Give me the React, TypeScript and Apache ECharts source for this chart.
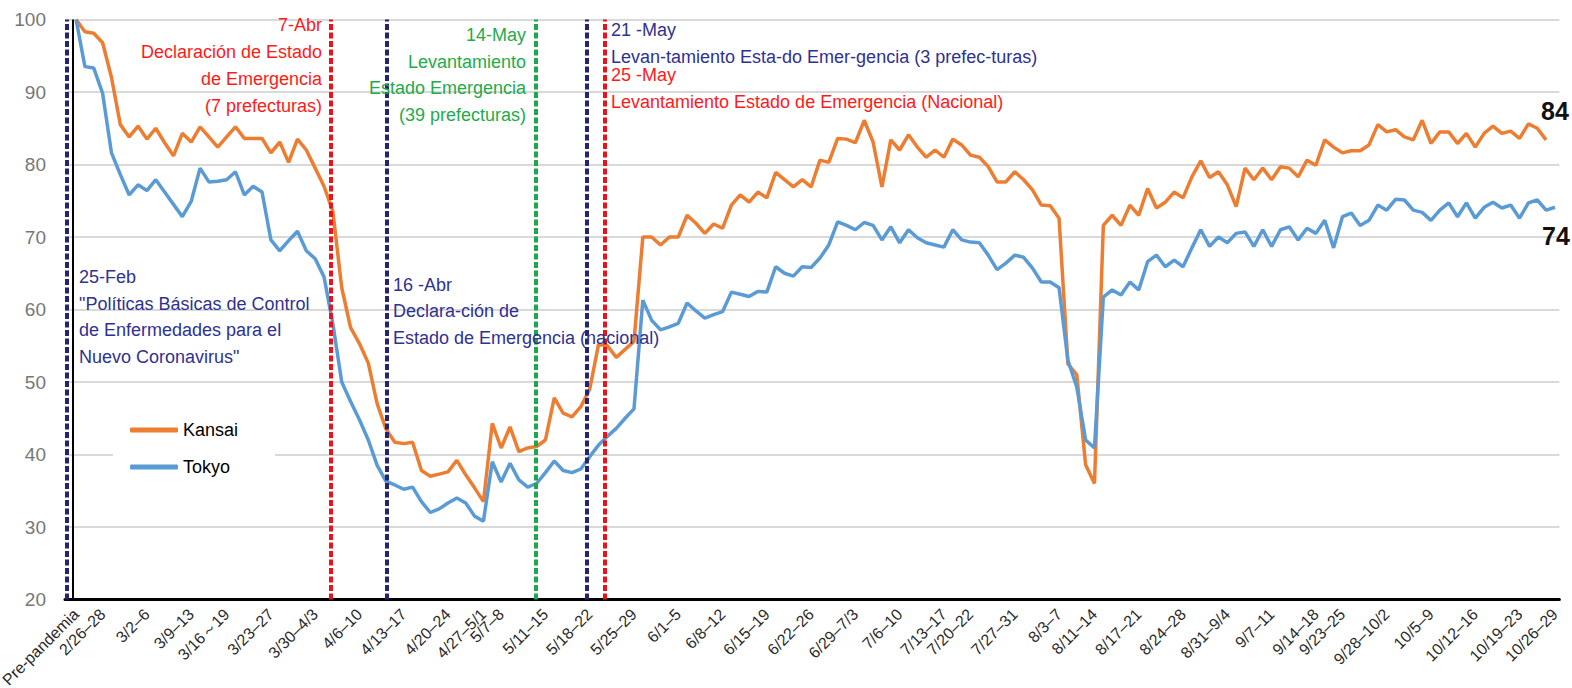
import React, { useEffect, useRef } from "react";
import * as echarts from "echarts";

const FONT = '"Liberation Sans", Arial, sans-serif';

// Week labels (x-axis tick labels), placed at the last trading day of each week
const weekLabels = [
  "Pre-pandemia", "2/26–28", "3/2–6", "3/9–13", "3/16～19", "3/23–27", "3/30–4/3",
  "4/6–10", "4/13–17", "4/20–24", "4/27–5/1", "5/7–8", "5/11–15", "5/18–22",
  "5/25–29", "6/1–5", "6/8–12", "6/15–19", "6/22–26", "6/29–7/3", "7/6–10",
  "7/13–17", "7/20–22", "7/27–31", "8/3–7", "8/11–14", "8/17–21", "8/24–28",
  "8/31–9/4", "9/7–11", "9/14–18", "9/23–25", "9/28–10/2", "10/5–9", "10/12–16",
  "10/19–23", "10/26–29",
];
// Number of daily observations in each week
const weekDays = [
  1, 3, 5, 5, 4, 5, 5, 5, 5, 5, 4, 2, 5, 5, 5, 5, 5, 5, 5, 5, 5, 5, 3, 5, 5, 4,
  5, 5, 5, 5, 5, 3, 5, 5, 5, 5, 4,
];

// Daily index values (pre-pandemic = 100)
const kansai = [
  100, 98.3, 98.1, 96.8, 92, 85.5, 83.8, 85.3, 83.5, 85,
  83, 81.2, 84.3, 83.1, 85.2, 83.8, 82.4, 83.8, 85.2, 83.6,
  83.6, 83.6, 81.6, 83.1, 80.3, 83.5, 82, 79.5, 77, 73.5,
  63, 57.5, 55.3, 52.6, 47, 43.5, 41.7, 41.5, 41.7, 37.8,
  37, 37.3, 37.6, 39.2, 37.2, 35.4, 33.5, 44.3, 40.9, 43.8,
  40.4, 40.9, 41.1, 42, 47.8, 45.7, 45.2, 46.6, 49, 55.2,
  55, 53.4, 54.5, 55.6, 70, 70, 68.9, 70, 70, 73,
  71.9, 70.5, 71.8, 71.2, 74.4, 75.8, 74.8, 76.2, 75.4, 78.9,
  77.9, 76.9, 77.9, 76.9, 80.6, 80.3, 83.6, 83.5, 83, 86.1,
  83.1, 76.9, 83.4, 82, 84.1, 82.4, 81, 82, 81, 83.5,
  82.7, 81.3, 81, 79.7, 77.6, 77.6, 79, 77.9, 76.5, 74.4,
  74.3, 72.6, 52.5, 51, 38.6, 36, 71.6, 73, 71.6, 74.4,
  73, 76.7, 74, 74.8, 76.2, 75.4, 78.3, 80.5, 78.2, 79,
  77.2, 74.2, 79.5, 77.9, 79.5, 77.9, 79.7, 79.5, 78.3, 80.6,
  79.9, 83.4, 82.4, 81.6, 81.9, 81.9, 82.7, 85.5, 84.5, 84.8,
  83.8, 83.4, 86.1, 82.9, 84.5, 84.5, 82.9, 84.3, 82.4, 84.3,
  85.3, 84.3, 84.6, 83.6, 85.6, 85, 83.4,
];
const tokyo = [
  100, 93.5, 93.3, 89.8, 81.6, 78.6, 75.8, 77.2, 76.4, 77.9,
  76.2, 74.5, 72.8, 74.9, 79.5, 77.6, 77.7, 77.9, 79, 75.8,
  77, 76.2, 69.6, 68.1, 69.5, 70.8, 68.1, 67, 64.5, 58,
  50, 47.3, 44.8, 42, 38.5, 36.3, 35.8, 35.2, 35.5, 33.5,
  32, 32.5, 33.3, 34, 33.3, 31.5, 30.8, 39, 36.2, 38.8,
  36.5, 35.5, 36, 37.5, 39.1, 37.8, 37.5, 38, 39.7, 41.3,
  42.5, 43.6, 45, 46.3, 61.3, 58.5, 57.2, 57.6, 58.1, 60.9,
  59.8, 58.8, 59.3, 59.7, 62.4, 62.1, 61.8, 62.5, 62.4, 65.9,
  65, 64.6, 65.9, 65.8, 67.1, 68.9, 72.1, 71.6, 71, 72,
  71.6, 69.6, 71.4, 69.2, 71, 69.9, 69.2, 68.9, 68.6, 71,
  69.6, 69.3, 69.2, 67.5, 65.5, 66.4, 67.5, 67.2, 65.7, 63.8,
  63.8, 63, 53, 49.3, 42, 40.9, 61.7, 62.7, 62, 63.8,
  62.7, 66.6, 67.5, 65.9, 66.8, 65.9, 68.5, 71, 68.7, 70,
  69.2, 70.5, 70.7, 68.7, 71, 68.7, 71, 71.4, 69.6, 71.2,
  70.5, 72.3, 68.5, 72.8, 73.3, 71.6, 72.3, 74.4, 73.7, 75.2,
  75.1, 73.7, 73.4, 72.3, 73.7, 74.7, 72.8, 74.7, 72.6, 74.1,
  74.8, 74, 74.4, 72.6, 74.7, 75.1, 73.7, 74.1,
];

const endLabelKansai = "84";
const endLabelTokyo = "74";

// Event dates, as positions on the daily index axis
const NAVY = "#25256f";
const RED = "#e8141c";
const GREEN = "#1ea84d";
const eventPositions = [-1.05, 28.8, 35.05, 51.95, 57.65, 59.75];
const eventColors = [NAVY, RED, NAVY, GREEN, NAVY, RED];
const yAxisLinePos = -0.34;

const annotations = [
  { lines: ["7-Abr", "Declaración de Estado", "de Emergencia", "(7 prefecturas)"], color: "#ff1a1a", align: "right", x: 322, y: 11.5, lh: 27 },
  { lines: ["14-May", "Levantamiento", "Estado Emergencia", "(39 prefecturas)"], color: "#22ab4b", align: "right", x: 526, y: 21.5, lh: 26.7 },
  { lines: ["21 -May", "Levan-tamiento Esta-do Emer-gencia (3 prefec-turas)"], color: "#2e3192", align: "left", x: 611, y: 16.5, lh: 27 },
  { lines: ["25 -May", "Levantamiento Estado de Emergencia (Nacional)"], color: "#ff1a1a", align: "left", x: 611, y: 61.5, lh: 27 },
  { lines: ["25-Feb", "\"Políticas Básicas de Control", "de Enfermedades para el", "Nuevo Coronavirus\""], color: "#2e3192", align: "left", x: 79, y: 263.5, lh: 26.7 },
  { lines: ["16 -Abr", "Declara-ción de", "Estado de Emergencia (nacional)"], color: "#2e3192", align: "left", x: 393, y: 271.5, lh: 26.5 },
];

export default function App() {
  const ref = useRef<HTMLDivElement>(null);

  useEffect(() => {
    document.body.style.margin = "0";
    document.body.style.overflow = "hidden";
    if (!ref.current) return;
    const chart = echarts.init(ref.current, undefined, { renderer: "svg" });

    const tickLabelAt: Record<number, string> = {};
    let idx = -1;
    weekLabels.forEach((l, k) => {
      idx += weekDays[k];
      tickLabelAt[idx] = l;
    });

    const kLast = kansai.length - 1;
    const tLast = tokyo.length - 1;

    const option: any = {
      animation: false,
      backgroundColor: "#ffffff",
      grid: {
        left: 65,
        right: 12.6,
        top: 19.5,
        bottom: 88.5,
        containLabel: false,
        outerBoundsMode: "none",
      },
      legend: {
        data: [
          { name: "Kansai", icon: "roundRect" },
          { name: "Tokyo", icon: "roundRect" },
        ],
        orient: "vertical",
        left: 113,
        top: 400,
        padding: [20, 37, 20, 17],
        itemGap: 17,
        itemWidth: 48,
        itemHeight: 5,
        backgroundColor: "#ffffff",
        textStyle: { fontSize: 18, color: "#000", fontFamily: FONT, lineHeight: 20 },
      },
      xAxis: {
        type: "value",
        min: -1.25,
        max: 167.5,
        interval: 0.25,
        axisLine: { show: true, lineStyle: { color: "#000", width: 3 } },
        axisTick: { show: false },
        splitLine: { show: false },
        axisLabel: {
          rotate: 45,
          margin: 12,
          fontSize: 16,
          color: "#2a2a2a",
          fontFamily: FONT,
          formatter: (v: number) => {
            const r = Math.round(v);
            return Math.abs(v - r) < 1e-6 && tickLabelAt[r] ? tickLabelAt[r] : "";
          },
        },
      },
      yAxis: {
        type: "value",
        min: 20,
        max: 100,
        interval: 10,
        axisLine: { show: false },
        axisTick: { show: false },
        splitLine: { show: true, lineStyle: { color: "#d9d9d9", width: 2 } },
        axisLabel: { fontSize: 19, color: "#777", margin: 19, fontFamily: FONT },
      },
      series: [
        {
          name: "Kansai",
          type: "line",
          symbol: "none",
          showSymbol: false,
          data: kansai.map((v, i) => [i, v]),
          lineStyle: { color: "#ed7d31", width: 3.5 },
          itemStyle: { color: "#ed7d31" },
          markPoint: {
            symbol: "circle",
            symbolSize: 0,
            silent: true,
            data: [
              {
                coord: [kLast, kansai[kLast]],
                label: {
                  show: true,
                  position: "inside",
                  formatter: endLabelKansai,
                  offset: [-5, -29],
                  align: "left",
                  verticalAlign: "middle",
                  fontSize: 25,
                  fontWeight: "bold",
                  color: "#111",
                  fontFamily: FONT,
                },
              },
            ],
          },
        },
        {
          name: "Tokyo",
          type: "line",
          symbol: "none",
          showSymbol: false,
          data: tokyo.map((v, i) => [i, v]),
          lineStyle: { color: "#5b9bd5", width: 3.5 },
          itemStyle: { color: "#5b9bd5" },
          markPoint: {
            symbol: "circle",
            symbolSize: 0,
            silent: true,
            data: [
              {
                coord: [tLast, tokyo[tLast]],
                label: {
                  show: true,
                  position: "inside",
                  formatter: endLabelTokyo,
                  offset: [-13, 29],
                  align: "left",
                  verticalAlign: "middle",
                  fontSize: 25,
                  fontWeight: "bold",
                  color: "#111",
                  fontFamily: FONT,
                },
              },
            ],
          },
          markLine: {
            silent: true,
            symbol: ["none", "none"],
            label: { show: false },
            data: [
              { xAxis: yAxisLinePos, lineStyle: { color: "#000", width: 2, type: "solid" } },
              ...eventPositions.map((x, k) => ({
                xAxis: x,
                lineStyle: { color: eventColors[k], width: 4, type: [6, 2.5] },
              })),
            ],
          },
        },
      ],
      graphic: annotations.map((a) => ({
        type: "text",
        x: a.x,
        y: a.y,
        z: 100,
        silent: true,
        style: {
          text: a.lines.join("\n"),
          fill: a.color,
          font: `18px ${FONT}`,
          align: a.align,
          verticalAlign: "top",
          lineHeight: a.lh,
        },
      })),
    };

    chart.setOption(option);
    return () => chart.dispose();
  }, []);

  return <div ref={ref} style={{ width: 1572, height: 688 }} />;
}
